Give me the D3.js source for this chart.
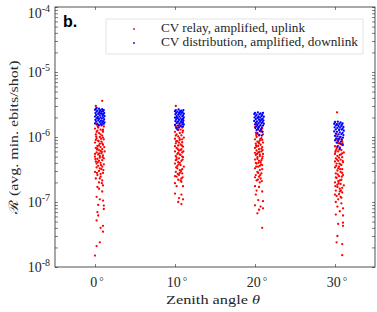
<!DOCTYPE html>
<html>
<head>
<meta charset="utf-8">
<script src="https://cdn.jsdelivr.net/npm/d3@7"></script>
<style>
  body { margin: 0; background: #fff; }
  text { font-family: "Liberation Serif", "DejaVu Serif", serif; fill: #262626; }
</style>
</head>
<body>
<svg id="chart" width="377" height="312"></svg>
<script>
// zenith angles (deg) and decade exponents on the y axis
const angleTicks = [0, 10, 20, 30];
const decadeExps = [-8, -7, -6, -5, -4];
const seriesNames = ["CV relay, amplified, uplink", "CV distribution, amplified, downlink"];

// [theta (deg), R (ebits/shot)]
const relay0 = [
  [0.9,3.6e-6],[0.1,3.0e-6],[0.5,2.3e-6],
  [0.2,1.55e-6],[0.8,1.5e-6],[1.1,1.45e-6],[0.4,1.4e-6],[0.0,1.35e-6],[0.7,1.3e-6],[0.3,1.25e-6],[1.0,1.2e-6],
  [0.5,1.15e-6],[0.1,1.1e-6],[0.9,1.05e-6],[0.6,1.0e-6],[0.2,9.6e-7],[1.1,9.2e-7],[0.4,8.8e-7],[0.8,8.5e-7],
  [0.0,8.2e-7],[0.6,7.9e-7],[1.0,7.6e-7],[0.3,7.3e-7],[0.7,7.0e-7],[0.1,6.8e-7],[0.9,6.5e-7],[0.5,6.3e-7],
  [1.2,6.0e-7],[0.2,5.8e-7],[0.8,5.6e-7],[0.4,5.4e-7],[1.0,5.2e-7],[0.0,5.0e-7],[0.6,4.8e-7],[0.3,4.6e-7],
  [0.9,4.4e-7],[0.1,4.2e-7],[0.7,4.0e-7],[1.1,3.8e-7],[0.4,3.6e-7],[0.2,3.4e-7],[0.8,3.2e-7],[0.5,3.0e-7],
  [1.0,2.8e-7],[0.3,2.6e-7],[0.7,2.45e-7],[0.1,2.3e-7],[0.9,2.15e-7],[0.5,2.0e-7],
  [0.5,1.5e-6],[1.0,1.3e-6],[0.2,1.2e-6],[0.7,1.1e-6],[1.0,9.8e-7],[0.1,9.0e-7],[0.9,8.0e-7],[0.5,7.4e-7],
  [0.3,6.7e-7],[0.7,6.1e-7],[0.0,5.5e-7],[0.6,5.1e-7],[1.1,4.7e-7],[0.5,4.3e-7],[0.2,3.9e-7],[0.9,3.5e-7],
  [0.6,3.3e-7],[0.0,2.9e-7],[0.7,2.7e-7],
  [0.35,1.45e-6],[0.95,1.25e-6],[0.15,1.02e-6],[0.75,9.4e-7],[0.45,8.6e-7],[1.15,7.0e-7],[0.25,6.4e-7],
  [0.85,5.9e-7],[0.55,5.6e-7],[0.05,4.6e-7],[0.95,4.9e-7],[0.35,4.1e-7],[0.75,3.7e-7],[1.05,3.1e-7],
  [0.25,2.8e-7],[0.6,2.3e-7],[0.85,1.95e-7],[0.3,1.7e-7],
  [1.0,1.8e-7],[0.5,1.6e-7],[0.9,1.45e-7],[0.2,1.2e-7],[0.6,1.1e-7],[1.0,1.05e-7],[0.4,9.0e-8],[1.1,8.8e-8],
  [1.1,7.8e-8],[0.3,7.0e-8],[0.4,6.2e-8],[0.2,5.2e-8],[0.7,4.0e-8],[1.0,4.3e-8],[1.0,3.5e-8],[0.6,2.4e-8],
  [0.2,2.1e-8],[0.0,1.5e-8]
];
const relay10 = [
  [10.1,3.0e-6],[10.3,1.7e-6],[10.6,1.6e-6],
  [10.5,1.5e-6],[10.1,1.45e-6],[10.9,1.4e-6],[10.3,1.35e-6],[10.7,1.3e-6],[11.0,1.25e-6],[10.0,1.2e-6],
  [10.6,1.15e-6],[10.2,1.1e-6],[10.8,1.06e-6],[10.4,1.02e-6],[11.1,9.8e-7],[10.0,9.4e-7],[10.6,9.0e-7],
  [10.3,8.6e-7],[10.9,8.3e-7],[10.1,8.0e-7],[10.7,7.7e-7],[10.4,7.4e-7],[11.0,7.1e-7],[10.2,6.8e-7],
  [10.8,6.5e-7],[10.5,6.2e-7],[10.0,6.0e-7],[10.9,5.8e-7],[10.3,5.5e-7],[10.7,5.3e-7],[10.1,5.1e-7],
  [11.0,4.9e-7],[10.5,4.7e-7],[10.2,4.5e-7],[10.8,4.3e-7],[10.4,4.1e-7],[10.0,3.9e-7],[10.7,3.7e-7],
  [11.1,3.5e-7],[10.3,3.3e-7],[10.6,3.1e-7],[10.1,2.9e-7],[10.9,2.75e-7],[10.5,2.6e-7],[10.2,2.45e-7],
  [10.8,2.3e-7],[10.4,2.2e-7],
  [10.8,1.45e-6],[10.4,1.28e-6],[10.1,1.05e-6],[10.9,9.2e-7],[10.5,8.2e-7],[10.0,7.2e-7],[10.7,6.3e-7],
  [10.4,5.7e-7],[10.9,5.0e-7],[10.1,4.4e-7],[10.6,4.0e-7],[10.3,3.6e-7],[10.9,3.2e-7],[10.6,2.8e-7],
  [10.0,2.5e-7],[10.7,2.15e-7],
  [10.25,1.38e-6],[10.95,1.18e-6],[10.55,9.6e-7],[10.15,8.6e-7],[10.85,7.4e-7],[10.35,6.5e-7],[11.05,6.0e-7],
  [10.6,5.4e-7],[10.2,4.8e-7],[10.95,4.5e-7],[10.45,3.8e-7],[10.15,3.4e-7],[10.75,3.0e-7],[10.35,2.7e-7],
  [10.95,2.4e-7],
  [10.0,1.95e-7],[10.8,2.05e-7],[10.2,1.75e-7],[11.0,1.75e-7],[10.0,1.35e-7],[10.8,1.3e-7],[10.5,1.15e-7],
  [11.0,1.1e-7],[10.4,1.0e-7],[10.8,9.3e-8]
];
const relay20 = [
  [20.2,1.6e-6],[20.6,1.5e-6],[20.0,1.42e-6],[20.9,1.36e-6],[20.4,1.3e-6],[20.7,1.22e-6],[20.1,1.16e-6],
  [21.0,1.1e-6],[20.5,1.05e-6],[20.2,1.0e-6],[20.8,9.6e-7],[20.0,9.2e-7],[20.6,8.8e-7],[20.3,8.5e-7],
  [21.0,8.2e-7],[20.1,7.9e-7],[20.7,7.6e-7],[20.4,7.3e-7],[20.9,7.0e-7],[20.0,6.8e-7],[20.5,6.5e-7],
  [20.2,6.2e-7],[20.8,6.0e-7],[20.4,5.8e-7],[21.0,5.5e-7],[20.1,5.3e-7],[20.6,5.1e-7],[20.3,4.9e-7],
  [20.9,4.7e-7],[20.0,4.5e-7],[20.5,4.3e-7],[20.7,4.1e-7],[20.2,3.9e-7],[20.9,3.7e-7],[20.4,3.5e-7],
  [20.0,3.3e-7],[20.6,3.1e-7],[20.3,2.9e-7],[20.8,2.75e-7],[20.1,2.6e-7],[20.5,2.45e-7],[20.7,2.3e-7],
  [20.2,2.15e-7],[20.6,2.0e-7],
  [20.8,1.28e-6],[20.3,1.12e-6],[20.9,9.0e-7],[20.5,8.0e-7],[20.2,7.1e-7],[20.8,6.6e-7],[20.0,5.7e-7],
  [20.6,5.4e-7],[20.3,4.6e-7],[20.8,4.4e-7],[20.1,4.0e-7],[20.6,3.6e-7],[20.9,3.2e-7],[20.4,2.8e-7],
  [20.0,2.4e-7],
  [20.35,1.4e-6],[20.95,1.2e-6],[20.15,1.07e-6],[20.65,9.3e-7],[20.45,8.3e-7],[20.15,7.4e-7],[20.95,6.3e-7],
  [20.55,5.9e-7],[20.25,5.5e-7],[20.95,5.0e-7],[20.45,4.0e-7],[20.75,3.8e-7],[20.15,3.5e-7],[20.65,2.6e-7],
  [20.35,2.2e-7],[20.85,2.1e-7],
  [20.0,1.75e-7],[20.5,1.7e-7],[20.2,1.5e-7],[20.9,1.45e-7],[20.1,1.3e-7],[20.4,1.07e-7],[21.0,1.03e-7],
  [20.0,8.9e-8],[20.7,8.5e-8],[20.5,7.6e-8],[21.0,8.0e-8],[20.3,6.7e-8],[20.9,4.0e-8]
];
const relay30 = [
  [30.25,2.4e-6],[30.6,1.0e-6],[30.2,1.1e-6],
  [30.5,9.5e-7],[30.1,9.0e-7],[30.9,8.6e-7],[30.3,8.2e-7],[30.7,7.8e-7],[31.0,7.5e-7],[30.0,7.2e-7],
  [30.6,6.9e-7],[30.2,6.6e-7],[30.8,6.3e-7],[30.4,6.0e-7],[31.1,5.8e-7],[30.0,5.5e-7],[30.6,5.3e-7],
  [30.3,5.1e-7],[30.9,4.9e-7],[30.1,4.7e-7],[30.7,4.5e-7],[30.4,4.3e-7],[31.0,4.1e-7],[30.2,3.9e-7],
  [30.8,3.7e-7],[30.5,3.5e-7],[30.0,3.4e-7],[30.9,3.2e-7],[30.3,3.05e-7],[30.7,2.9e-7],[30.1,2.75e-7],
  [31.0,2.6e-7],[30.5,2.5e-7],[30.2,2.35e-7],[30.8,2.2e-7],[30.4,2.1e-7],[30.0,2.0e-7],[30.7,1.9e-7],
  [31.1,1.8e-7],[30.3,1.7e-7],[30.6,1.6e-7],[30.1,1.5e-7],[30.9,1.4e-7],[30.5,1.32e-7],[30.2,1.24e-7],
  [30.8,1.16e-7],[30.4,1.1e-7],
  [30.8,9.2e-7],[30.4,8.0e-7],[30.1,6.2e-7],[30.9,5.6e-7],[30.5,4.8e-7],[30.0,4.2e-7],[30.7,3.8e-7],
  [30.4,3.3e-7],[30.9,2.8e-7],[30.1,2.4e-7],[30.6,2.15e-7],[30.3,1.85e-7],[30.9,1.65e-7],[30.6,1.45e-7],
  [30.0,1.3e-7],[30.7,1.2e-7],
  [30.35,9.3e-7],[30.95,8.0e-7],[30.25,7.0e-7],[30.55,6.4e-7],[30.05,5.9e-7],[30.75,5.4e-7],[30.25,4.5e-7],
  [30.95,4.3e-7],[30.55,3.9e-7],[30.15,3.6e-7],[30.65,3.2e-7],[30.35,2.65e-7],[30.85,2.45e-7],[30.45,1.95e-7],
  [30.05,1.75e-7],[30.75,1.5e-7],
  [30.1,1.0e-7],[30.8,9.5e-8],[30.3,8.5e-8],[31.0,8.0e-8],[30.6,7.2e-8],[30.1,6.4e-8],[31.0,6.2e-8],
  [30.4,4.6e-8],[31.0,4.8e-8],[31.0,4.3e-8],[30.3,3.0e-8],[30.2,2.4e-8],[30.9,2.25e-8],[30.9,1.52e-8]
];

const dist0 = [
  [0.1,2.7e-6],[0.5,2.72e-6],[0.9,2.68e-6],[1.1,2.6e-6],[0.0,2.62e-6],[0.3,2.55e-6],[0.7,2.6e-6],[1.0,2.5e-6],
  [0.2,2.45e-6],[0.55,2.4e-6],[0.85,2.45e-6],[1.15,2.35e-6],[0.05,2.33e-6],[0.4,2.28e-6],[0.75,2.3e-6],
  [1.05,2.22e-6],[0.15,2.18e-6],[0.6,2.15e-6],[0.95,2.12e-6],[1.2,2.1e-6],[0.0,2.06e-6],[0.35,2.03e-6],
  [0.7,2.0e-6],[1.05,1.98e-6],[0.2,1.94e-6],[0.5,1.9e-6],[0.85,1.92e-6],[1.15,1.86e-6],[0.05,1.83e-6],
  [0.4,1.8e-6],[0.75,1.78e-6],[1.0,1.75e-6],[0.15,1.72e-6],[0.6,1.7e-6],[0.9,1.66e-6],[1.2,1.68e-6],
  [0.0,1.62e-6],[0.3,1.6e-6],[0.7,1.58e-6],[1.1,1.6e-6],[0.45,1.52e-6],[0.85,1.55e-6],[0.2,2.8e-6],
  [0.6,2.5e-6],[0.3,1.95e-6],[0.9,2.25e-6]
];
const dist10 = [
  [10.1,2.6e-6],[10.45,2.65e-6],[10.8,2.55e-6],[11.05,2.6e-6],[10.0,2.5e-6],[10.3,2.45e-6],[10.65,2.5e-6],
  [10.95,2.42e-6],[10.15,2.35e-6],[10.5,2.32e-6],[10.85,2.36e-6],[11.1,2.28e-6],[10.05,2.24e-6],[10.4,2.2e-6],
  [10.7,2.22e-6],[11.0,2.15e-6],[10.2,2.1e-6],[10.55,2.06e-6],[10.9,2.08e-6],[11.1,2.0e-6],[10.0,1.98e-6],
  [10.35,1.95e-6],[10.7,1.93e-6],[11.0,1.9e-6],[10.15,1.86e-6],[10.5,1.83e-6],[10.85,1.84e-6],[11.05,1.78e-6],
  [10.05,1.75e-6],[10.4,1.72e-6],[10.75,1.7e-6],[11.0,1.67e-6],[10.2,1.63e-6],[10.55,1.6e-6],[10.9,1.58e-6],
  [11.1,1.56e-6],[10.0,1.53e-6],[10.35,1.5e-6],[10.7,1.47e-6],[11.0,1.45e-6],[10.5,1.4e-6],[10.15,1.38e-6],
  [10.6,2.4e-6],[10.25,2.0e-6],[10.8,1.75e-6],[10.3,1.3e-6]
];
const dist20 = [
  [20.0,2.35e-6],[20.35,2.4e-6],[20.7,2.3e-6],[21.0,2.35e-6],[19.9,2.25e-6],[20.2,2.2e-6],[20.55,2.25e-6],
  [20.9,2.18e-6],[20.1,2.12e-6],[20.45,2.08e-6],[20.8,2.1e-6],[21.1,2.05e-6],[19.95,2.0e-6],[20.3,1.96e-6],
  [20.65,1.98e-6],[20.95,1.92e-6],[20.1,1.88e-6],[20.5,1.85e-6],[20.85,1.86e-6],[21.05,1.8e-6],[19.9,1.77e-6],
  [20.25,1.74e-6],[20.6,1.72e-6],[20.95,1.7e-6],[20.1,1.66e-6],[20.45,1.63e-6],[20.8,1.64e-6],[21.1,1.6e-6],
  [20.0,1.56e-6],[20.3,1.53e-6],[20.7,1.52e-6],[21.0,1.5e-6],[20.15,1.46e-6],[20.5,1.43e-6],[20.85,1.41e-6],
  [20.05,1.37e-6],[20.4,1.34e-6],[20.75,1.32e-6],[20.2,1.27e-6],[20.6,1.24e-6],[20.9,1.2e-6],[20.3,1.15e-6],
  [20.55,1.08e-6],[20.85,1.05e-6],[20.4,2.0e-6],[20.7,1.8e-6]
];
const dist30 = [
  [30.0,1.7e-6],[30.35,1.72e-6],[30.7,1.68e-6],[30.95,1.62e-6],[29.9,1.6e-6],[30.2,1.57e-6],[30.55,1.6e-6],
  [30.85,1.55e-6],[30.1,1.5e-6],[30.45,1.47e-6],[30.8,1.49e-6],[31.05,1.43e-6],[29.95,1.41e-6],[30.3,1.38e-6],
  [30.65,1.4e-6],[30.95,1.34e-6],[30.1,1.31e-6],[30.5,1.28e-6],[30.85,1.3e-6],[31.1,1.25e-6],[29.9,1.22e-6],
  [30.25,1.2e-6],[30.6,1.18e-6],[30.95,1.16e-6],[30.1,1.13e-6],[30.45,1.1e-6],[30.8,1.11e-6],[31.05,1.07e-6],
  [30.0,1.04e-6],[30.3,1.02e-6],[30.7,1.0e-6],[31.0,9.8e-7],[30.15,9.5e-7],[30.5,9.3e-7],[30.85,9.2e-7],
  [30.0,8.9e-7],[30.4,8.7e-7],[30.75,8.5e-7],[30.2,8.2e-7],[30.6,8.0e-7],[30.9,7.6e-7],[30.35,7.2e-7],
  [30.6,6.6e-7],[30.55,1.3e-6],[30.3,1.55e-6]
];

const relayAll = [].concat(relay0, relay10, relay20, relay30);
const distAll = [].concat(dist0, dist10, dist20, dist30);

const margin = {left: 55, top: 7, right: 2, bottom: 45};
const W = 377, H = 312;
const width = W - margin.left - margin.right;
const height = H - margin.top - margin.bottom;
const axisColor = "#262626";

const svg = d3.select("#chart");
const g = svg.append("g").attr("transform", "translate(" + margin.left + "," + margin.top + ")");

const x = d3.scaleLinear().domain([-5, 35]).range([0, width]);
const y = d3.scaleLog().domain([1e-8, 1e-4]).range([height, 0]);

// all log ticks (majors + minors)
const allTicks = [];
decadeExps.forEach(e => {
  for (let m = 1; m <= 9; m++) {
    const v = m * Math.pow(10, e);
    if (v <= 1e-4) allTicks.push(v);
  }
});

function styleAxis(sel) {
  sel.select(".domain").remove();
  sel.selectAll(".tick line").attr("stroke", axisColor).attr("stroke-width", 0.6);
  sel.selectAll(".tick text").remove();
}

// tick marks, inward on all four sides
g.append("g").attr("transform", "translate(0," + height + ")")
  .call(d3.axisBottom(x).tickValues(angleTicks).tickSizeInner(-3).tickSizeOuter(0)).call(styleAxis);
g.append("g")
  .call(d3.axisTop(x).tickValues(angleTicks).tickSizeInner(-3).tickSizeOuter(0)).call(styleAxis);
g.append("g")
  .call(d3.axisLeft(y).tickValues(allTicks).tickSizeInner(-3).tickSizeOuter(0)).call(styleAxis);
g.append("g").attr("transform", "translate(" + width + ",0)")
  .call(d3.axisRight(y).tickValues(allTicks).tickSizeInner(-3).tickSizeOuter(0)).call(styleAxis);

// scatter
g.append("g").selectAll("circle").data(relayAll).enter().append("circle")
  .attr("cx", d => x(d[0])).attr("cy", d => y(d[1])).attr("r", 1.15).attr("fill", "#ff0000");
g.append("g").selectAll("circle").data(distAll).enter().append("circle")
  .attr("cx", d => x(d[0])).attr("cy", d => y(d[1])).attr("r", 1.15).attr("fill", "#0000ff");

// box
g.append("rect").attr("width", width).attr("height", height)
  .attr("fill", "none").attr("stroke", axisColor).attr("stroke-width", 0.8);

// x tick labels
const xl = g.append("g");
angleTicks.forEach(a => {
  const t = xl.append("text").attr("x", x(a) + 2).attr("y", height + 20)
    .attr("text-anchor", "middle").style("font-size", "14px");
  t.append("tspan").text(a);
  t.append("tspan").attr("dx", 2).attr("dy", -2).style("font-size", "11px").text("°");
});

// y tick labels (top one nudged down so it stays inside the figure)
decadeExps.forEach(e => {
  const yy = Math.max(y(Math.pow(10, e)) + 5, 11);
  const t = g.append("text").attr("x", -5).attr("y", yy)
    .attr("text-anchor", "end").style("font-size", "14px");
  t.append("tspan").text("10");
  t.append("tspan").attr("dy", -6).style("font-size", "10px").text("-" + Math.abs(e));
});

// axis titles
const xt = svg.append("text").attr("x", 213).attr("y", 304)
  .attr("text-anchor", "middle").style("font-size", "13px")
  .attr("textLength", 94).attr("lengthAdjust", "spacingAndGlyphs");
xt.append("tspan").text("Zenith angle ");
xt.append("tspan").style("font-style", "italic").text("θ");

svg.append("text").attr("transform", "translate(18,137) rotate(-90)")
  .attr("text-anchor", "middle").style("font-size", "13px")
  .attr("textLength", 153).attr("lengthAdjust", "spacingAndGlyphs")
  .text("ℛ (avg. min. ebits/shot)");

// panel letter
svg.append("text").attr("x", 63).attr("y", 27)
  .style("font-family", "'Liberation Sans', Arial, sans-serif").style("font-weight", "bold")
  .style("font-size", "16px").style("fill", "#000").text("b.");

// legend
const lg = svg.append("g");
lg.append("rect").attr("x", 106).attr("y", 19).attr("width", 257).attr("height", 35)
  .attr("fill", "#fff").attr("stroke", "#dcdcdc").attr("stroke-width", 0.8);
const legColors = ["#ff0000", "#0000ff"];
const legLengths = [144, 197];
seriesNames.forEach((n, i) => {
  lg.append("circle").attr("cx", 134).attr("cy", 29 + i * 14).attr("r", 0.9).attr("fill", legColors[i]);
  lg.append("text").attr("x", 161).attr("y", 32 + i * 14).style("font-size", "13px")
    .attr("textLength", legLengths[i]).attr("lengthAdjust", "spacingAndGlyphs").text(n);
});
</script>
</body>
</html>
